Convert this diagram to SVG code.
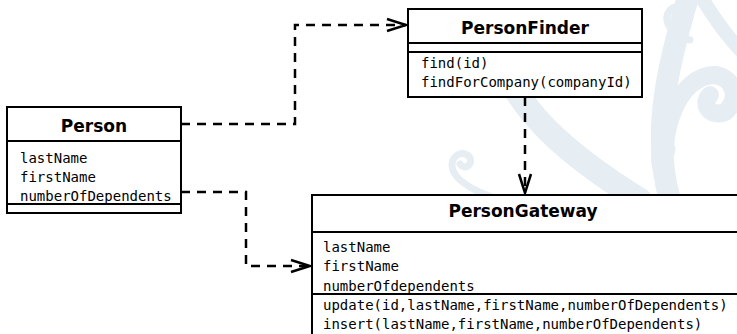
<svg xmlns="http://www.w3.org/2000/svg" width="737" height="334" viewBox="0 0 737 334">
<defs>
<style>
.box{fill:#fff;stroke:#000;stroke-width:2}
.sep{stroke:#000;stroke-width:2}
.title{font-family:"DejaVu Sans",sans-serif;font-weight:bold;font-size:17px;text-anchor:middle}
.mono{font-family:"DejaVu Sans Mono",monospace;font-size:14px}
.dash{fill:none;stroke:#000;stroke-width:2.5;stroke-dasharray:9 7}
.wm{fill:none;stroke:#e6edf3;stroke-linecap:round}
</style>
<marker id="open" markerWidth="24" markerHeight="16" refX="20" refY="8" orient="auto" markerUnits="userSpaceOnUse">
<path d="M1,2 L20,8 L1,14" fill="none" stroke="#000" stroke-width="2.5"/>
</marker>
</defs>
<rect width="737" height="334" fill="#fff"/>
<g id="watermark">
<path class="wm" stroke-width="24" d="M500,60 C520,110 560,150 640,200"/>
<path class="wm" stroke-width="22" d="M690,-10 C670,60 650,130 670,200 C690,250 700,290 720,330"/>
<path class="wm" stroke-width="18" d="M668,190 C655,130 680,75 715,75 C735,78 740,100 725,112 C712,118 700,105 710,95"/>
<path class="wm" stroke-width="14" d="M700,-5 C715,20 730,40 745,55"/>
<path class="wm" stroke-width="7" d="M690,40 C670,35 662,20 670,10 C678,2 690,8 686,16 C683,22 676,19 677,14"/>
<path class="wm" stroke-width="7" d="M700,215 C670,200 652,172 655,155 C658,140 672,140 672,150 C671,158 662,158 662,152"/>
<path class="wm" stroke-width="7" d="M500,200 C470,190 452,178 452,165 C452,153 466,150 470,158 C473,166 463,170 460,164"/>
<path class="wm" stroke-width="12" d="M440,230 C470,210 500,200 540,200"/>
</g>
<g id="connectors">
<path class="dash" d="M181,124 H295 V25 H406" marker-end="url(#open)"/>
<path class="dash" d="M181,192 H246 V266 H310" marker-end="url(#open)"/>
<path class="dash" d="M525,97 V193" marker-end="url(#open)"/>
</g>
<g id="Person">
<rect class="box" x="7" y="107" width="174" height="106"/>
<line class="sep" x1="7" y1="141" x2="181" y2="141"/>
<line class="sep" x1="7" y1="204" x2="181" y2="204"/>
<text class="title" x="94" y="132">Person</text>
<text class="mono" x="20" y="163">lastName</text>
<text class="mono" x="20" y="182">firstName</text>
<text class="mono" x="20" y="201">numberOfDependents</text>
</g>
<g id="PersonFinder">
<rect class="box" x="408" y="9" width="234" height="88"/>
<line class="sep" x1="408" y1="43" x2="642" y2="43"/>
<line class="sep" x1="408" y1="52" x2="642" y2="52"/>
<text class="title" x="525" y="34">PersonFinder</text>
<text class="mono" x="421" y="68">find(id)</text>
<text class="mono" x="421" y="87">findForCompany(companyId)</text>
</g>
<g id="PersonGateway">
<rect class="box" x="312" y="195" width="450" height="160"/>
<line class="sep" x1="312" y1="232" x2="737" y2="232"/>
<line class="sep" x1="312" y1="294" x2="737" y2="294"/>
<text class="title" x="523" y="217">PersonGateway</text>
<text class="mono" x="323" y="252">lastName</text>
<text class="mono" x="323" y="271">firstName</text>
<text class="mono" x="323" y="291">numberOfdependents</text>
<text class="mono" x="323" y="310">update(id,lastName,firstName,numberOfDependents)</text>
<text class="mono" x="323" y="329">insert(lastName,firstName,numberOfDependents)</text>
</g>
</svg>
